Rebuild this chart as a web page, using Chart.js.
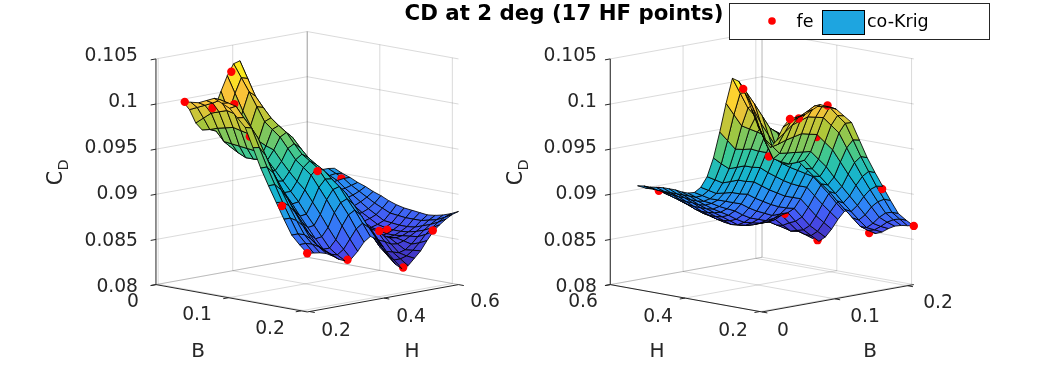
<!DOCTYPE html>
<html><head><meta charset="utf-8">
<style>html,body{margin:0;padding:0;background:#fff}canvas{display:block}</style>
<script src="https://cdn.jsdelivr.net/npm/chart.js@4"></script>
</head><body><canvas id="c" width="1042" height="365"></canvas>
<script>
// ---- data ----
const bValues=[.0375,.0482,.0589,.0696,.0803,.0909,.1016,.1123,.123,.1337,.1444,.1551,.1658,.1764,.1871,.1978,.2085];
const hValues=[.194,.2109,.2278,.2448,.2617,.2786,.2955,.3124,.3293,.3463,.3632,.3801,.397,.4139,.4308,.4478,.4647,.4816,.4985,.5154,.5323,.5493,.5662,.5831,.6];
// CD x 10^4, one row per B value, one column per H value
const cdGrid=[
[1008,998,982,973,982,995,1012,1028,1040,1042,1013,980,950,928,915,908,906,906,907,907,907,906,905,905,904],
[1009,1002,989,975,972,975,990,1010,1026,1024,999,969,942,923,910,903,900,900,900,900,900,900,900,901,900],
[1010,1006,996,978,962,955,968,992,1012,1006,985,958,935,918,905,898,894,893,893,894,894,895,896,897,897],
[1014,1010,999,980,961,950,956,977,997,995,980,956,935,918,904,895,890,887,886,887,887,888,889,891,893],
[1018,1015,1002,982,960,946,945,962,982,985,975,955,935,918,903,892,885,881,880,880,880,881,883,886,890],
[1014,1013,1000,980,959,946,945,958,975,978,970,951,932,915,900,889,881,876,874,873,873,874,877,881,886],
[1010,1011,998,978,958,947,945,955,968,972,965,948,930,913,898,886,877,871,868,867,867,868,871,876,883],
[1001,1000,988,968,948,936,935,944,957,961,955,940,923,907,892,880,871,865,862,861,861,863,866,872,879],
[992,990,978,958,938,926,925,934,946,951,946,933,917,901,887,875,866,860,856,855,856,858,861,868,876],
[971,970,960,943,925,915,915,925,939,945,940,927,911,896,882,871,863,858,854,853,854,856,860,867,874],
[950,950,942,928,913,904,905,917,932,939,935,922,906,891,878,867,860,856,853,851,852,855,859,866,873],
[932,932,925,914,901,892,893,905,920,928,927,917,902,888,875,867,861,856,853,851,852,855,859,866,872],
[915,914,909,900,889,881,882,893,908,918,920,912,899,885,873,867,863,857,853,852,853,856,860,866,871],
[898,898,894,887,877,870,871,880,895,905,908,901,888,874,862,856,853,849,848,850,854,858,863,868,872],
[882,882,880,874,866,860,860,868,882,893,897,890,877,863,851,845,843,841,843,848,855,861,866,870,874],
[873,873,871,867,861,856,854,859,869,879,884,878,867,854,843,837,837,839,844,851,859,865,870,874,877],
[865,864,863,861,857,852,849,850,857,866,871,867,857,845,835,829,831,838,845,855,864,870,875,879,881]];
// high-fidelity sample points
const feB=[.039,.0642,.039,.099,.1468,.0569,.1693,.2085,.2056,.1695,.1395,.2085,.2085,.1147,.0605,.1022];
const feH=[.1952,.2208,.3203,.2115,.3418,.5809,.2025,.194,.3077,.4632,.5428,.4514,.531,.4579,.2935,.2468];
const feZ=[.1008,.1003,.1032,.1013,.0936,.0897,.0911,.0865,.0849,.0864,.0855,.083,.0865,.0894,.0956,.0975];
const zTicks=[.08,.085,.09,.095,.1,.105];
const zTickLabels=['0.08','0.085','0.09','0.095','0.1','0.105'];
const bTicks=[0,.1,.2];
const bTickLabels=['0','0.1','0.2'];
const hTicks=[.2,.4,.6];
const hTickLabels=['0.2','0.4','0.6'];
const titleText='CD at 2 deg (17 HF points)';
const legendLabels=['fe','co-Krig'];
const xName='B', yName='H', zName='C', zSub='D';

// ---- styles and layout ----
const BL=[0,.2085],HL=[.194,.6],ZL=[.08,.105];
const views=[
 {x0:153,y0:287,xU:152.5,xV:152.5,yU:28,yV:-28,wall:[[0,0],[0,1],[1,1]],floorAxis:[[0,0],[1,0],[1,1]]},
 {x0:764,y0:315,xU:153,xV:-153,yU:-28,yV:-28,wall:[[0,1],[1,1],[1,0]],floorAxis:[[0,1],[0,0],[1,0]]}
];
const PZ=231, GRID='rgba(38,38,38,.17)', AXIS='#262626', FONT='"DejaVu Sans"';
const parula=[[62,38,168],[72,82,244],[46,135,247],[18,177,214],[55,200,151],[171,199,57],[254,195,56],[249,251,20]];
function colour(z){
  let t=(z-.0829)/(.1042-.0829);t=Math.max(0,Math.min(1,t))*(parula.length-1);
  const i=Math.min(parula.length-2,Math.floor(t)),f=t-i,a=parula[i],b=parula[i+1];
  return `rgb(${a.map((c,k)=>Math.round(c+(b[k]-c)*f)).join(',')})`;
}
const U=b=>(b-BL[0])/(BL[1]-BL[0]),V=h=>(h-HL[0])/(HL[1]-HL[0]),W=z=>(z-ZL[0])/(ZL[1]-ZL[0]);
function projUV(v,u,w,zn){return {x:v.x0+v.xU*u+v.xV*w,y:v.y0+v.yU*u+v.yV*w-PZ*zn};}
function proj(v,b,h,z){return projUV(v,U(b),V(h),W(z));}
function line(pts,color,width){return {type:'line',data:pts,borderColor:color,borderWidth:width,pointRadius:0,fill:false,tension:0};}

const drawn=[];
function addFrame(v,idx){
  const w=v.wall;
  zTicks.forEach(z=>drawn.push(line(w.map(p=>projUV(v,p[0],p[1],W(z))),GRID,1)));
  drawn.push(line([projUV(v,w[1][0],w[1][1],0),projUV(v,w[1][0],w[1][1],1)],GRID,1));
  bTicks.forEach(b=>{const u=U(b);
    drawn.push(line([projUV(v,u,0,0),projUV(v,u,1,0),projUV(v,u,1,1)],GRID,1));});
  hTicks.forEach(h=>{const t=V(h);const far=idx===0?0:1;
    drawn.push(line([projUV(v,1-far,t,0),projUV(v,far,t,0),projUV(v,far,t,1)],GRID,1));});
  drawn.push(line(v.floorAxis.map(p=>projUV(v,p[0],p[1],0)),AXIS,1));
  drawn.push(line([projUV(v,v.floorAxis[0][0],v.floorAxis[0][1],0),projUV(v,v.floorAxis[0][0],v.floorAxis[0][1],1)],AXIS,1));
  const L=.035;
  if(idx===0){
    bTicks.forEach(b=>drawn.push(line([projUV(v,U(b),0,0),projUV(v,U(b),-L,0)],AXIS,1)));
    hTicks.forEach(h=>drawn.push(line([projUV(v,1,V(h),0),projUV(v,1+L,V(h),0)],AXIS,1)));
    zTicks.forEach(z=>drawn.push(line([projUV(v,0,0,W(z)),projUV(v,0,-L,W(z))],AXIS,1)));
  }else{
    hTicks.forEach(h=>drawn.push(line([projUV(v,0,V(h),0),projUV(v,-L,V(h),0)],AXIS,1)));
    bTicks.forEach(b=>drawn.push(line([projUV(v,U(b),0,0),projUV(v,U(b),-L,0)],AXIS,1)));
    zTicks.forEach(z=>drawn.push(line([projUV(v,0,1,W(z)),projUV(v,-L,1,W(z))],AXIS,1)));
  }
}
function cellOf(arr,val){let i=0;while(i<arr.length-2&&val>=arr[i+1])i++;return i;}
function addSurface(v,idx){
  const pts={};
  feB.forEach((b,k)=>{const key=cellOf(bValues,b)+'_'+cellOf(hValues,feH[k]);(pts[key]=pts[key]||[]).push(k);});
  const nB=bValues.length-1,nH=hValues.length-1;
  for(let a=0;a<nB;a++){
    const i=idx===0?a:nB-1-a;
    for(let j=nH-1;j>=0;j--){
      const c=[[i,j],[i+1,j],[i+1,j+1],[i,j+1],[i,j]];
      const data=c.map(q=>proj(v,bValues[q[0]],hValues[q[1]],cdGrid[q[0]][q[1]]/1e4));
      const mean=(cdGrid[i][j]+cdGrid[i+1][j]+cdGrid[i+1][j+1]+cdGrid[i][j+1])/4e4;
      const d=line(data,'#000',.85);d.faceColor=colour(mean);
      drawn.push(d);
      (pts[i+'_'+j]||[]).forEach(k=>{
        drawn.push({type:'line',showLine:false,data:[proj(v,feB[k],feH[k],feZ[k])],pointRadius:4.2,pointBackgroundColor:'#ff0000',pointBorderWidth:0,pointHoverRadius:4.2});
      });
    }
  }
}
views.forEach((v,i)=>{addFrame(v,i);addSurface(v,i);});

const faces={id:'faces',beforeDatasetDraw(chart,args){
  const ds=chart.data.datasets[args.index];
  if(!ds.faceColor)return;
  const ctx=chart.ctx,p=args.meta.data;
  ctx.save();ctx.beginPath();
  p.forEach((e,i)=>i?ctx.lineTo(e.x,e.y):ctx.moveTo(e.x,e.y));
  ctx.closePath();ctx.fillStyle=ds.faceColor;ctx.fill();ctx.restore();
}};
const texts={id:'texts',afterDraw(chart){
  const ctx=chart.ctx;
  const T=(s,x,y,size,al,bold,col)=>{ctx.font=(bold?'bold ':'')+size+'px '+FONT;ctx.textAlign=al||'center';ctx.textBaseline='middle';ctx.fillStyle=col||AXIS;ctx.fillText(s,x,y);};
  ctx.save();
  const S=18.7;
  zTicks.forEach((z,i)=>{const y=287-PZ*W(z);T(zTickLabels[i],138,y,S,'right');T(zTickLabels[i],597,y,S,'right');});
  const lB=[[133,302],[197,315],[270,329]],lH=[[336,331],[411,317],[485,302]];
  const rH=[[733,331],[658,317],[583,302]],rB=[[783,331],[865,317],[938,303]];
  bTickLabels.forEach((s,i)=>{T(s,lB[i][0],lB[i][1],S);T(s,rB[i][0],rB[i][1],S);});
  hTickLabels.forEach((s,i)=>{T(s,lH[i][0],lH[i][1],S);T(s,rH[i][0],rH[i][1],S);});
  T(xName,198,352,20);T(yName,412,352,20);T(yName,657,352,20);T(xName,870,352,20);
  [[57,178],[517,178]].forEach(p=>{
    ctx.save();ctx.translate(p[0],p[1]);ctx.rotate(-Math.PI/2);
    T(zName,0,0,20.5);T(zSub,13,7,14.5);ctx.restore();
  });
  T(titleText,564,14,21.3,'center',true,'#000');
  ctx.fillStyle='#fff';ctx.fillRect(729.5,3.5,260,36);
  ctx.strokeStyle=AXIS;ctx.lineWidth=1;ctx.strokeRect(729.5,3.5,260,36);
  ctx.beginPath();ctx.arc(772,21,3.8,0,7);ctx.fillStyle='#ff0000';ctx.fill();
  T(legendLabels[0],805,22,17.5,'center',false,'#000');
  ctx.fillStyle='#1ea5e0';ctx.fillRect(822.5,10.5,42,24);ctx.strokeStyle='#000';ctx.strokeRect(822.5,10.5,42,24);
  T(legendLabels[1],867,22,17.5,'left',false,'#000');
  ctx.restore();
}};
new Chart(document.getElementById('c'),{
  type:'line',
  data:{datasets:drawn.slice().reverse()},
  plugins:[faces,texts],
  options:{responsive:false,animation:false,events:[],parsing:true,normalized:true,
    layout:{padding:0},
    plugins:{legend:{display:false},title:{display:false},tooltip:{enabled:false}},
    scales:{x:{type:'linear',min:0,max:1042,display:false},y:{type:'linear',min:0,max:365,reverse:true,display:false}},
    elements:{line:{capBezierPoints:false}}
  }
});
</script></body></html>
